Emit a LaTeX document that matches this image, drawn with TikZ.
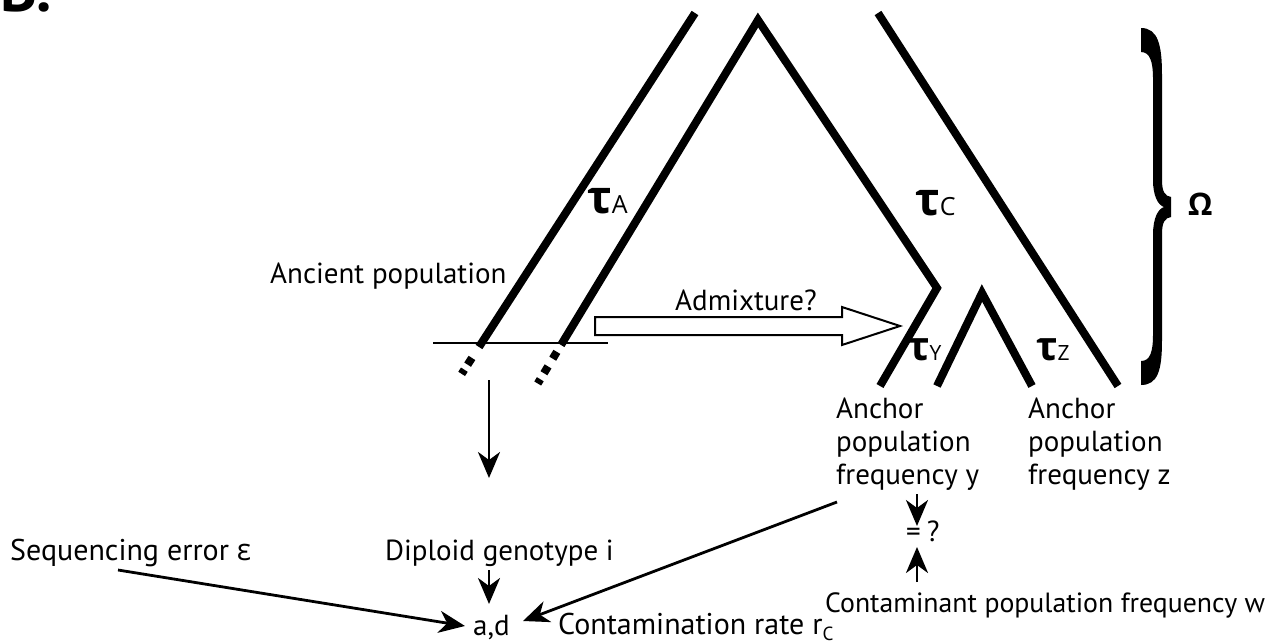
\documentclass[tikz,border=0pt]{standalone}
\usepackage{fontspec}
\setmainfont{PT Sans}
\newfontfamily\gk{Open Sans}
\usetikzlibrary{arrows.meta}
\begin{document}
\begin{tikzpicture}[x=1pt,y=-1pt,
  txt/.style={inner sep=0pt,font=\fontsize{29}{33}\selectfont},
  wide/.style={font=\fontsize{30}{33}\selectfont},
  narrow/.style={font=\fontsize{27.8}{33}\selectfont},
  branch/.style={line width=8pt},
  arr/.style={line width=2.8pt,-{Stealth[length=26pt,width=22pt,inset=8pt]}},
  tau/.style={inner sep=0pt,anchor=base west,font=\gk\fontsize{46}{46}\selectfont\bfseries},
  taus/.style={inner sep=0pt,anchor=base west,font=\gk\fontsize{40}{40}\selectfont\bfseries}]
\useasboundingbox (0,0) rectangle (1278,643);
% title (cut at the top edge)
\node[inner sep=0pt,anchor=base west,font=\fontsize{62}{62}\selectfont\bfseries] (title) at (0,11) {B.};
% tree
\coordinate (a1b) at (479,347);
\coordinate (a1t) at (695,13);
\coordinate (a2b) at (561,345);
\coordinate (apx) at (758,20);
\coordinate (kink) at (937,288);
\coordinate (ylo) at (880,386);
\coordinate (otop) at (878,13);
\coordinate (obot) at (1118,386);
\coordinate (yzt) at (982,293);
\coordinate (yzl) at (937,386);
\coordinate (yzr) at (1032,386);
\coordinate (a1d) at (459,378);
\coordinate (a2d) at (535,388);
\draw[branch] (a1b) -- (a1t);
\draw[branch,line join=miter] (a2b) -- (apx) -- (kink) -- (ylo);
\draw[branch] (otop) -- (obot);
\draw[branch,line join=miter] (yzl) -- (yzt) -- (yzr);
\draw[line width=8pt,dash pattern=on 0pt off 13pt on 8pt off 6pt on 5pt off 100pt] (a1b) -- (a1d);
\draw[line width=8pt,dash pattern=on 0pt off 8pt on 8pt off 9pt on 8pt off 7pt on 5pt off 100pt] (a2b) -- (a2d);
% horizontal line
\coordinate (hl) at (433,343);
\coordinate (hr) at (608,343);
\draw[line width=2pt] (hl) -- (hr);
% admixture arrow
\draw[line width=2pt,line join=miter] (595,317) -- (842,317) -- (842,307) -- (900,326) -- (842,345) -- (842,335) -- (595,335) -- cycle;
\node[txt,anchor=base west] (admix) at (675,310) {Admixture?};
% labels
\node[txt,anchor=base west] (anc) at (270,283) {Ancient population};
\node[tau] (tA) at (587,213) {τ{\fontsize{25}{25}\selectfont\mdseries A}};
\node[tau] (tC) at (915,215) {τ{\fontsize{25}{25}\selectfont\mdseries C}};
\node[taus] (tY) at (908,360) {τ{\fontsize{21}{21}\selectfont\mdseries Y}};
\node[taus] (tZ) at (1036,360) {τ{\fontsize{21}{21}\selectfont\mdseries Z}};
% brace
\fill (1141,28) .. controls (1158,28) and (1162,45) .. (1162,75) -- (1162,180)
  .. controls (1162,192) and (1165,196) .. (1171,197) -- (1171,217)
  .. controls (1165,218) and (1162,222) .. (1162,234) -- (1162,340)
  .. controls (1162,370) and (1158,385) .. (1141,385)
  -- (1141,361) .. controls (1150,361) and (1153,352) .. (1153,335) -- (1153,235)
  .. controls (1153,218) and (1158,209) .. (1164,207)
  .. controls (1158,205) and (1153,196) .. (1153,180) -- (1153,78)
  .. controls (1153,62) and (1150,52) .. (1141,52) -- cycle;
\node[inner sep=0pt,anchor=base west,font=\gk\fontsize{31}{31}\selectfont\bfseries] (omega) at (1188,215) {Ω};
% anchor texts
\node[txt,anchor=north west,align=left] (fy) at (836,398) {Anchor\\population\\frequency y};
\node[txt,anchor=north west,align=left] (fz) at (1028,398) {Anchor\\population\\frequency z};
% lower texts
\node[txt,wide,anchor=base west] (seq) at (10,560) {Sequencing error {\gk ε}};
\node[txt,anchor=base west] (dip) at (385,560) {Diploid genotype i};
\node[txt,anchor=base west] (ad) at (473,635) {a,d};
\node[txt,wide,anchor=base west] (cr) at (558,634) {Contamination rate r\raisebox{-6pt}{\fontsize{19}{19}\selectfont C}};
\node[txt,anchor=base west] (eq) at (906,541) {=\hspace{6pt}?};
\node[txt,narrow,anchor=base west] (cw) at (825,612) {Contaminant population frequency w};
% arrows
\coordinate (gs) at (489,380);
\coordinate (ge) at (489,478);
\coordinate (ds) at (489,570);
\coordinate (de) at (489,604);
\coordinate (ss) at (118,570);
\coordinate (se) at (465,626);
\coordinate (ys) at (837,502);
\coordinate (ye) at (523,621);
\coordinate (es) at (917,494);
\coordinate (ee) at (917,526);
\coordinate (ws) at (917,582);
\coordinate (we) at (917,547);
\draw[arr] (gs) -- (ge);
\draw[arr] (ds) -- (de);
\draw[arr] (ss) -- (se);
\draw[arr] (ys) -- (ye);
\draw[arr] (es) -- (ee);
\draw[arr] (ws) -- (we);
\end{tikzpicture}
\end{document}
